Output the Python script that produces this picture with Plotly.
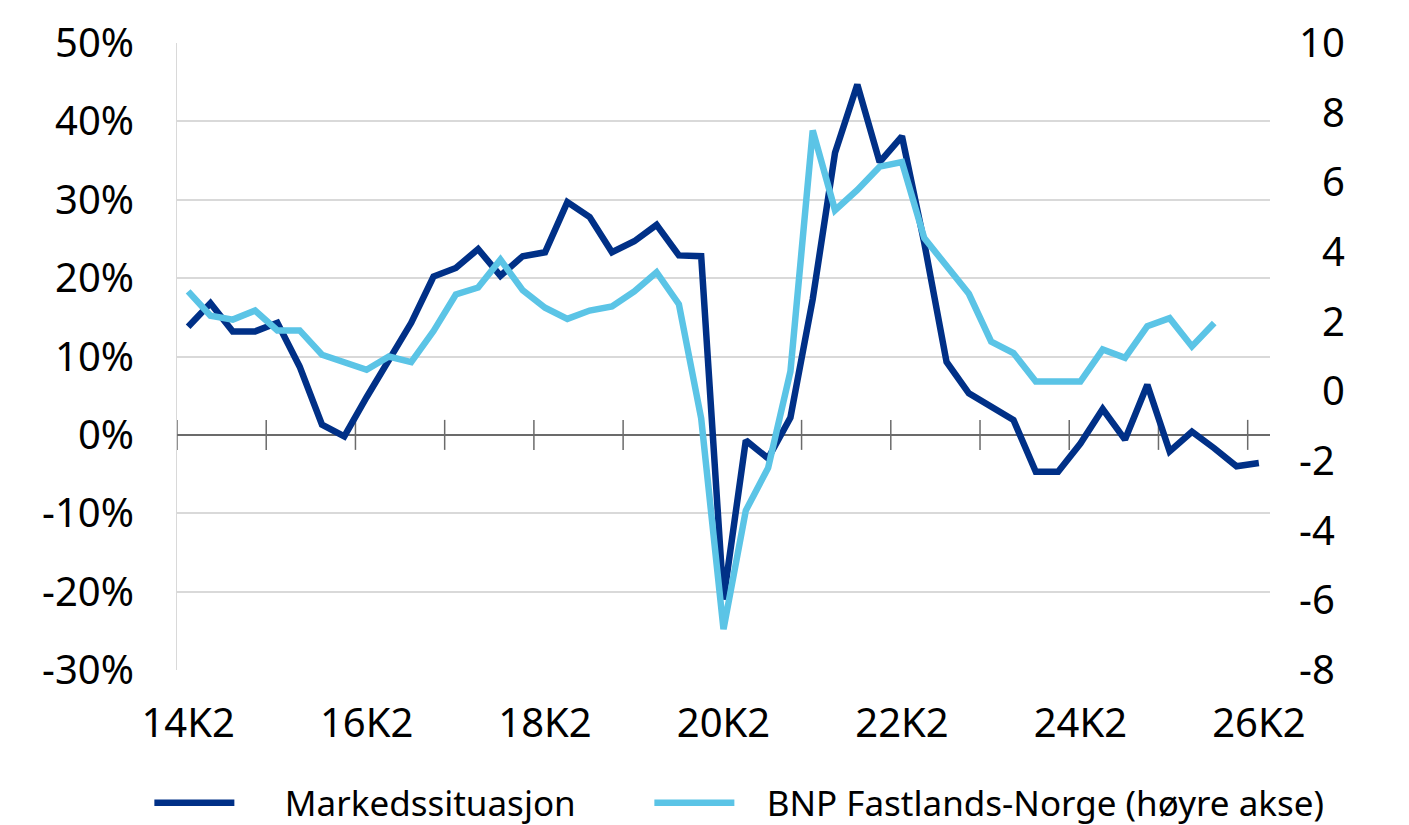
import plotly.graph_objects as go

# Quarter categories 14K2 .. 26K2
quarters = [f"{y}K{q}" for y in range(14, 27) for q in range(1, 5)][1:50]

# Markedssituasjon (left axis, %)
markedssituasjon = [
    13.8, 16.8, 13.2, 13.2, 14.3, 8.7, 1.3, -0.2, 4.8, 9.5,
    14.3, 20.2, 21.3, 23.7, 20.3, 22.8, 23.3, 29.7, 27.8, 23.3,
    24.7, 26.8, 22.9, 22.8, -21.0, -0.7, -3.0, 2.2, 17.3, 36.0,
    44.7, 34.8, 38.1, 24.5, 9.3, 5.3, 3.6, 1.9, -4.7, -4.7,
    -1.1, 3.3, -0.6, 6.4, -2.1, 0.4, -1.7, -4.0, -3.6,
]

# BNP Fastlands-Norge (right axis)
bnp = [
    2.87, 2.17, 2.06, 2.32, 1.75, 1.75, 1.05, 0.83, 0.62, 1.00,
    0.84, 1.73, 2.78, 2.98, 3.78, 2.90, 2.40, 2.08, 2.32, 2.44,
    2.87, 3.42, 2.50, -0.78, -6.83, -3.42, -2.20, 0.57, 7.49, 5.20,
    5.78, 6.45, 6.58, 4.40, 3.57, 2.80, 1.43, 1.10, 0.28, 0.28,
    0.28, 1.20, 0.96, 1.87, 2.10, 1.29, 1.96,
]

left_ticks = [-30, -20, -10, 0, 10, 20, 30, 40, 50]
left_grid = [-20, -10, 10, 20, 30, 40]
right_ticks = [-8, -6, -4, -2, 0, 2, 4, 6, 8, 10]
x_labels = quarters[::8]

series_names = ["Markedssituasjon", "BNP Fastlands-Norge (høyre akse)"]

DARK = "#003087"
LIGHT = "#5BC4E6"
FONT = "Noto Sans"
NB = "\u00a0"  # spacing between legend symbol and text

fig = go.Figure()
fig.add_trace(go.Scatter(
    x=quarters, y=markedssituasjon, name=NB * 5 + series_names[0],
    mode="lines", line=dict(color=DARK, width=6.5), yaxis="y", legend="legend",
))
fig.add_trace(go.Scatter(
    x=quarters[:len(bnp)], y=bnp, name=NB * 3 + series_names[1],
    mode="lines", line=dict(color=LIGHT, width=6.5), yaxis="y2", legend="legend2",
))

# tick marks crossing the zero line (every 4 quarters, between categories)
tick_pos = [-0.5] + [k + 0.5 for k in range(3, 48, 4)]
shapes = [
    dict(type="line", xref="x", yref="y", x0=p, x1=p,
         ysizemode="pixel", yanchor=0, y0=-15, y1=15,
         line=dict(color="#6b6b6b", width=1.5), layer="below")
    for p in tick_pos
]

def pad(v):
    s = str(v)
    return "\u2007" + s if 0 <= v < 10 else s

legend_common = dict(
    orientation="h", xref="container", xanchor="left",
    y=(825 - 803) / 825, yref="container", yanchor="middle",
    font=dict(size=35, family=FONT), itemwidth=80, bgcolor="rgba(0,0,0,0)",
)

fig.update_layout(
    width=1409, height=825,
    margin=dict(l=177, r=139, t=43, b=155, autoexpand=False),
    paper_bgcolor="white", plot_bgcolor="white",
    font=dict(family=FONT, color="#000000", size=40),
    showlegend=True,
    legend=dict(x=155 / 1409 - 0.004, **legend_common),
    legend2=dict(x=655 / 1409 - 0.004, **legend_common),
    xaxis=dict(
        type="category", categoryorder="array", categoryarray=quarters,
        range=[-0.5, 48.5], tickmode="array", tickvals=x_labels, ticktext=x_labels,
        showgrid=False, showline=False, zeroline=False, ticks="",
        tickfont=dict(size=40), ticklabelstandoff=26,
    ),
    yaxis=dict(
        range=[-30, 50], tickmode="array", tickvals=left_ticks,
        ticktext=[f"{v}%" for v in left_ticks],
        showgrid=False, showline=True, linecolor="#d9d9d9", linewidth=1,
        zeroline=True, zerolinecolor="#6b6b6b", zerolinewidth=1.5,
        minor=dict(tickmode="array", tickvals=left_grid, showgrid=True,
                   gridcolor="#d9d9d9", gridwidth=1.5, ticks=""),
        ticks="", ticklabelstandoff=34, tickfont=dict(size=40),
    ),
    yaxis2=dict(
        range=[-8, 10], overlaying="y", side="right", tickmode="array",
        tickvals=right_ticks, ticktext=[pad(v) for v in right_ticks],
        showgrid=False, showline=False, zeroline=False, ticks="",
        ticklabelstandoff=28, tickfont=dict(size=40),
    ),
    shapes=shapes,
)

fig.write_html("out.html", config={"displayModeBar": False})
with open("out.html", "r", encoding="utf-8") as f:
    html = f.read()
html = html.replace("<body>", '<body style="margin:0;overflow:hidden">', 1)
with open("out.html", "w", encoding="utf-8") as f:
    f.write(html)
